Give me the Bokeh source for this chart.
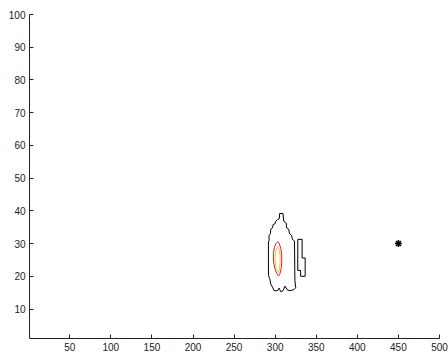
from bokeh.plotting import figure
from bokeh.models import Range1d, FixedTicker
from bokeh.embed import file_html
from bokeh.resources import INLINE

# Tick values
x_ticks = [50, 100, 150, 200, 250, 300, 350, 400, 450, 500]
y_ticks = [10, 20, 30, 40, 50, 60, 70, 80, 90, 100]

# Outer (black) contour, main body
outer_x = [305.5, 309.5, 310.5, 313.5, 314.0, 316.5, 317.5, 320.0, 321.0, 323.5,
           324.0, 325.0, 323.0, 319.0, 315.0, 312.0, 309.5, 306.8, 304.8, 302.7,
           298.7, 296.7, 294.6, 293.4, 291.8, 291.8, 292.6, 292.6, 294.2, 294.6,
           296.7, 297.5, 299.9, 300.7, 302.7, 305.0, 305.5]
outer_y = [39.2, 39.2, 36.8, 36.2, 34.8, 34.4, 33.0, 32.5, 31.3, 30.8,
           18.8, 16.5, 16.0, 15.6, 15.8, 17.0, 15.6, 15.3, 16.4, 15.6,
           15.6, 16.7, 17.7, 19.3, 20.3, 30.5, 31.0, 32.5, 33.0, 34.4,
           34.8, 35.8, 36.1, 36.8, 37.3, 37.6, 39.2]

# Outer (black) contour, narrow right piece
side_x = [327.5, 332.8, 332.8, 336.5, 336.5, 331.0, 331.0, 327.5, 327.5]
side_y = [31.3, 31.3, 25.6, 25.6, 20.0, 20.0, 21.8, 21.8, 31.3]

# Middle (red) contour
mid_x = [303.1, 305.0, 306.8, 308.0, 308.0, 307.0, 305.5, 304.0, 302.0, 299.5,
         298.0, 297.9, 299.0, 301.0, 303.1]
mid_y = [30.6, 30.0, 28.5, 26.5, 24.0, 22.0, 20.6, 20.1, 20.8, 22.5,
         24.5, 27.0, 28.8, 30.0, 30.6]

# Inner (yellow) contour
inner_x = [303.0, 304.8, 306.0, 306.0, 305.0, 303.5, 301.5, 300.3, 300.0, 301.0, 303.0]
inner_y = [29.1, 28.2, 26.5, 24.0, 22.0, 21.1, 21.8, 23.5, 26.0, 28.0, 29.1]

# Marker point
pt_x = [450]
pt_y = [30]

p = figure(width=448, height=360, x_range=Range1d(1, 500), y_range=Range1d(1, 100),
           output_backend="svg", toolbar_location=None,
           min_border_left=29, min_border_right=9, min_border_top=14, min_border_bottom=22)

p.outline_line_color = None
p.grid.visible = False
p.background_fill_color = "white"
p.border_fill_color = "white"

for ax, ticks in ((p.xaxis, x_ticks), (p.yaxis, y_ticks)):
    ax.ticker = FixedTicker(ticks=ticks)
    ax.major_tick_in = 4
    ax.major_tick_out = 0
    ax.minor_tick_line_color = None
    ax.axis_line_color = "#222222"
    ax.major_tick_line_color = "#222222"
    ax.major_label_text_font = "Liberation Sans"
    ax.major_label_text_font_size = "10px"
    ax.major_label_text_color = "#222222"
    ax.major_label_standoff = 4

p.line(outer_x, outer_y, line_color="black", line_width=1)
p.line(side_x, side_y, line_color="black", line_width=1)
p.line(mid_x, mid_y, line_color="#d2232a", line_width=1)
p.line(inner_x, inner_y, line_color="#f2c230", line_width=1)
p.scatter(pt_x, pt_y, marker="asterisk", size=7, line_color="black", line_width=1.5)

open("out.html", "w").write(file_html(p, INLINE))
